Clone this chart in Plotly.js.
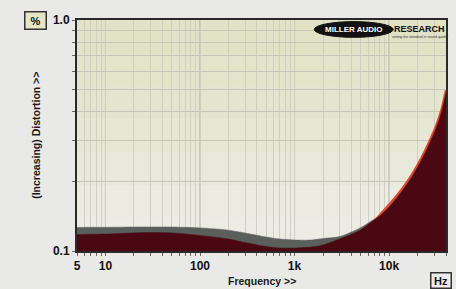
<!DOCTYPE html>
<html>
<head>
<meta charset="utf-8">
<script src="https://cdn.plot.ly/plotly-3.0.1.min.js"></script>
<style>
html,body{margin:0;padding:0;background:#e9e9e7;}
#chart{width:456px;height:289px;}
</style>
</head>
<body>
<div id="chart"></div>
<script>
// Frequency points (Hz)
const freq = [5, 7, 10, 15, 20, 30, 50, 70, 100, 150, 200, 300, 500, 700, 1000, 1500, 2000, 3000, 5000, 6500, 8000, 10000, 12000, 15000, 18000, 22000, 26000, 32000, 36000, 40000];
// Grey band (upper channel) distortion %
const greySeries = [0.1264, 0.1266, 0.1266, 0.1268, 0.127, 0.127, 0.127, 0.1266, 0.1259, 0.1245, 0.123, 0.1197, 0.115, 0.1127, 0.1116, 0.1116, 0.1133, 0.1155, 0.1262, 0.135, 0.1425, 0.152, 0.165, 0.186, 0.208, 0.241, 0.277, 0.338, 0.392, 0.472];
// Dark red filled series
const darkRedSeries = [0.1179, 0.1182, 0.1185, 0.1192, 0.1197, 0.1202, 0.1197, 0.1185, 0.1167, 0.1145, 0.1127, 0.1088, 0.1046, 0.103, 0.103, 0.104, 0.1062, 0.1127, 0.1233, 0.1334, 0.142, 0.1555, 0.1696, 0.1915, 0.2143, 0.2477, 0.2849, 0.347, 0.4024, 0.486];
// Red line series
const redSeries = [0.112, 0.113, 0.113, 0.114, 0.114, 0.115, 0.114, 0.113, 0.111, 0.109, 0.107, 0.104, 0.101, 0.100, 0.100, 0.101, 0.103, 0.109, 0.120, 0.131, 0.143, 0.1586, 0.173, 0.1953, 0.2186, 0.2527, 0.2906, 0.354, 0.4104, 0.496];

// Axis ticks
const xTickVals = [5,6,7,8,9,10,20,30,40,50,60,70,80,90,100,200,300,400,500,600,700,800,900,1000,2000,3000,4000,5000,6000,7000,8000,9000,10000,20000,30000,40000];
const xLabelMap = {5:'5',10:'10',100:'100',1000:'1k',10000:'10k',40000:'40k'};
const xTickText = xTickVals.map(v => xLabelMap[v] ? '<b>' + xLabelMap[v] + '</b>' : '');
const xMajor = [10, 100, 1000, 10000];
const yTickVals = [0.1,0.2,0.3,0.4,0.5,0.6,0.7,0.8,0.9,1.0];
const yTickText = yTickVals.map(v => v === 0.1 ? '<b>0.1</b>' : (v === 1.0 ? '<b>1.0</b>' : ''));

const traces = [
  {x: freq, y: greySeries, type: 'scatter', mode: 'lines', fill: 'tozeroy',
   line: {color: '#5a5f5c', width: 0.5, shape: 'spline', smoothing: 0.8}, fillcolor: '#5a5f5c', hoverinfo: 'skip'},
  {x: freq, y: redSeries, type: 'scatter', mode: 'lines',
   line: {color: '#e2492a', width: 2.5, shape: 'spline', smoothing: 0.8}, hoverinfo: 'skip'},
  {x: freq, y: darkRedSeries, type: 'scatter', mode: 'lines', fill: 'tozeroy',
   line: {color: '#4a0812', width: 0.5, shape: 'spline', smoothing: 0.8}, fillcolor: '#4a0812', hoverinfo: 'skip'}
];

// background gradient bands
const bandCols = ['#e1e2c6','#e3e4ca','#e5e5cf','#e7e7d5','#e9e9db','#ebebe1','#ecece5'];
const shapes = [];
bandCols.forEach((c, i) => {
  const n = bandCols.length;
  shapes.push({type:'rect', xref:'paper', yref:'paper', x0:0, x1:1,
    y0: 1 - (i+1)/n, y1: 1 - i/n, fillcolor:c, line:{width:0}, layer:'below'});
});
xMajor.forEach(v => shapes.push({type:'line', xref:'x', yref:'paper', x0:v, x1:v, y0:0, y1:1,
  line:{color:'#a9aaa0', width:1}, layer:'between'}));
// logo ellipse
shapes.push({type:'circle', xref:'paper', yref:'paper', x0:0.643, x1:0.857, y0:0.925, y1:0.993,
  fillcolor:'#111', line:{color:'#111', width:1}, layer:'above'});

const font = 'Liberation Sans, Arial, sans-serif';
const layout = {
  width: 456, height: 289,
  margin: {l: 77, r: 10, t: 20, b: 38},
  paper_bgcolor: '#e9e9e7',
  plot_bgcolor: '#e6e6d2',
  showlegend: false,
  xaxis: {
    type: 'log', range: [Math.log10(5), Math.log10(40000)],
    tickmode: 'array', tickvals: xTickVals, ticktext: xTickText,
    ticks: 'outside', ticklen: 3, tickcolor: '#666', tickwidth: 1,
    showgrid: true, gridcolor: '#d0d0c2', gridwidth: 1,
    showline: true, linecolor: '#2a2a2a', linewidth: 2, mirror: true,
    zeroline: false,
    tickfont: {family: font, size: 12, color: '#111'}
  },
  yaxis: {
    type: 'log', range: [-1, 0],
    tickmode: 'array', tickvals: yTickVals, ticktext: yTickText,
    ticks: 'outside', ticklen: 3, tickcolor: '#666', tickwidth: 1,
    showgrid: true, gridcolor: '#c6c6b8', gridwidth: 1,
    showline: true, linecolor: '#2a2a2a', linewidth: 2, mirror: true,
    zeroline: false,
    tickfont: {family: font, size: 12, color: '#111'}
  },
  shapes: shapes,
  annotations: [
    {text: '<b>(Increasing) Distortion >></b>', xref:'paper', yref:'paper', x: -0.113, y: 0.5,
     textangle: -90, showarrow: false, xanchor:'center', yanchor:'middle',
     font: {family: font, size: 10.5, color: '#1a1a1a'}},
    {text: '<b>Frequency >></b>', xref:'paper', yref:'paper', x: 0.5, y: -0.128,
     showarrow: false, xanchor:'center', yanchor:'middle',
     font: {family: font, size: 10.5, color: '#1a1a1a'}},
    {text: '<b>%</b>', xref:'paper', yref:'paper', x: -0.112, y: 1.0, showarrow:false,
     xanchor:'center', yanchor:'middle', bgcolor:'#e6e6c6', bordercolor:'#333', borderwidth:1.5,
     borderpad: 2, width: 16, font: {family: font, size: 11, color:'#111'}},
    {text: '<b>Hz</b>', xref:'paper', yref:'paper', x: 0.987, y: -0.128, showarrow:false,
     xanchor:'center', yanchor:'middle', bgcolor:'#ececea', bordercolor:'#333', borderwidth:1.5,
     borderpad: 1, width: 17, font: {family: font, size: 11, color:'#111'}},
    {text: '<b>MILLER AUDIO</b>', xref:'paper', yref:'paper', x: 0.75, y: 0.959, showarrow:false,
     xanchor:'center', yanchor:'middle',
     font: {family: font, size: 8, color:'#ffffff'}},
    {text: '<b>RESEARCH</b>', xref:'paper', yref:'paper', x: 0.927, y: 0.962, showarrow:false,
     xanchor:'center', yanchor:'middle',
     font: {family: font, size: 9, color:'#111'}},
    {text: 'setting the standard in sound quality', xref:'paper', yref:'paper', x: 0.93, y: 0.925, showarrow:false,
     xanchor:'center', yanchor:'middle',
     font: {family: font, size: 3.5, color:'#333'}}
  ]
};

Plotly.newPlot('chart', traces, layout, {staticPlot: true, displayModeBar: false});
</script>
</body>
</html>
